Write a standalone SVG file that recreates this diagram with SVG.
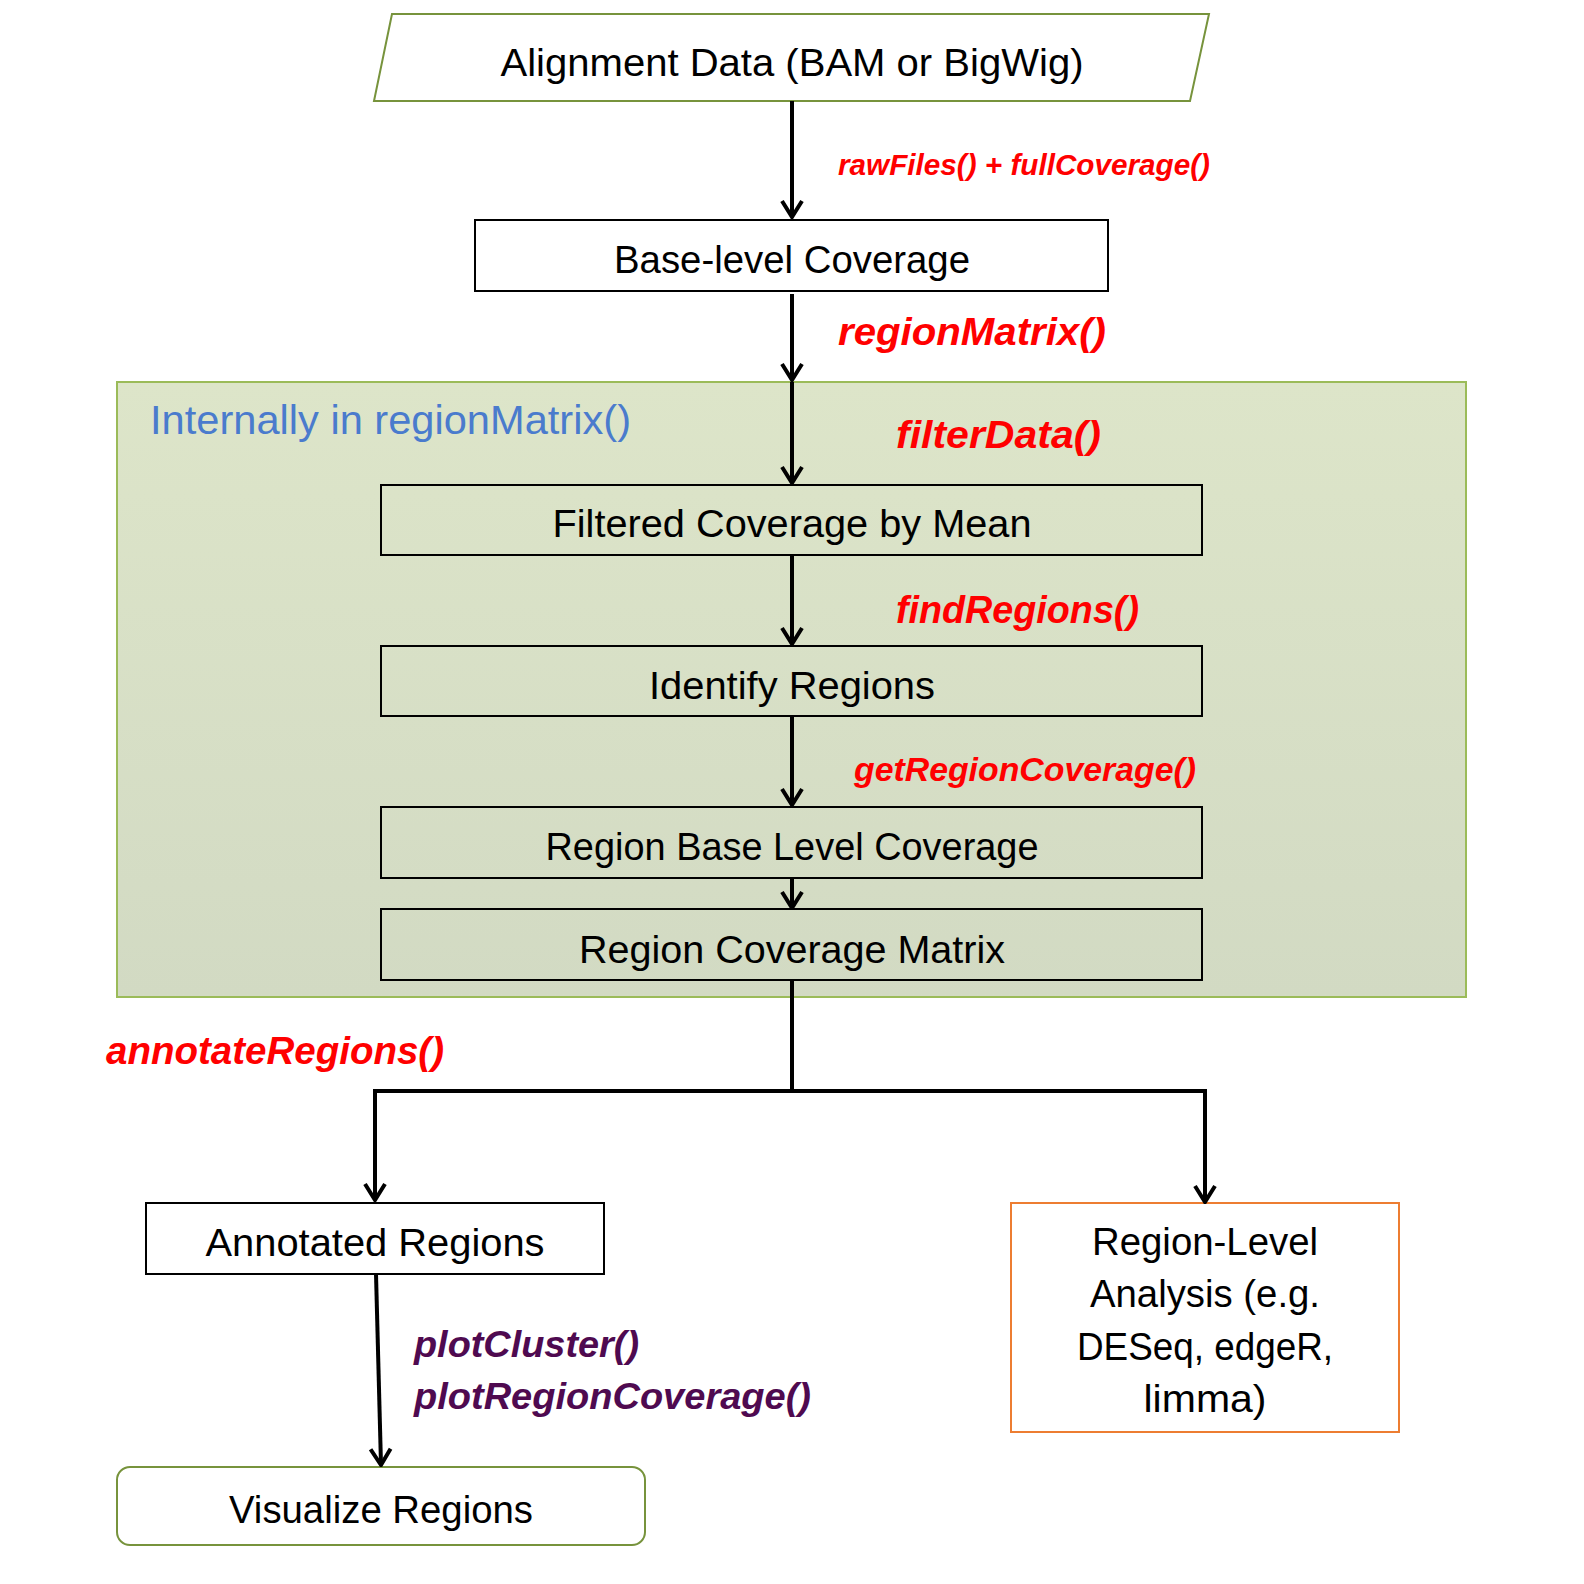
<svg xmlns="http://www.w3.org/2000/svg" width="1584" height="1584" viewBox="0 0 1584 1584">
<defs>
<linearGradient id="bg" x1="0" y1="0" x2="0" y2="1">
<stop offset="0" stop-color="#dde5c9"/>
<stop offset="1" stop-color="#d2dac3"/>
</linearGradient>
<marker id="arr" viewBox="0 0 20 24" refX="18" refY="12" markerWidth="20" markerHeight="24" markerUnits="userSpaceOnUse" orient="auto-start-reverse">
<path d="M2,2 L18,12 L2,22" fill="none" stroke="#000" stroke-width="4"/>
</marker>
</defs>
<style>
.box{fill:#fff;stroke:#000;stroke-width:2}
.ibox{fill:none;stroke:#000;stroke-width:2}
.t{font-family:"Liberation Sans",Arial,sans-serif;font-size:38px;fill:#000;text-anchor:middle}
.lbl{font-family:"Liberation Sans",Arial,sans-serif;font-weight:bold;font-style:italic;fill:#ff0000}
.pl{font-family:"Liberation Sans",Arial,sans-serif;font-weight:bold;font-style:italic;fill:#4f0a50;font-size:37px}
.c{fill:none;stroke:#000;stroke-width:4}
</style>
<rect width="1584" height="1584" fill="#fff"/>
<g id="container">
<rect x="117" y="382" width="1349" height="615" fill="url(#bg)" stroke="#9bbb59" stroke-width="2"/>
<text x="150" y="434" font-family="Liberation Sans,Arial,sans-serif" font-size="40" fill="#4a7bcd" textLength="481" lengthAdjust="spacingAndGlyphs">Internally in regionMatrix()</text>
</g>
<g id="alignment">
<polygon points="392,14 1209,14 1190,101 374,101" fill="#fff" stroke="#77933c" stroke-width="2"/>
<text class="t" x="792" y="76" textLength="583" lengthAdjust="spacingAndGlyphs">Alignment Data (BAM or BigWig)</text>
</g>
<g id="base">
<rect class="box" x="475" y="220" width="633" height="71"/>
<text class="t" x="792" y="273" textLength="356" lengthAdjust="spacingAndGlyphs">Base-level Coverage</text>
</g>
<g id="filtered">
<rect class="ibox" x="381" y="485" width="821" height="70"/>
<text class="t" x="792" y="537" textLength="479" lengthAdjust="spacingAndGlyphs">Filtered Coverage by Mean</text>
</g>
<g id="identify">
<rect class="ibox" x="381" y="646" width="821" height="70"/>
<text class="t" x="792" y="699" textLength="286" lengthAdjust="spacingAndGlyphs">Identify Regions</text>
</g>
<g id="rblc">
<rect class="ibox" x="381" y="807" width="821" height="71"/>
<text class="t" x="792" y="860" textLength="493" lengthAdjust="spacingAndGlyphs">Region Base Level Coverage</text>
</g>
<g id="rcm">
<rect class="ibox" x="381" y="909" width="821" height="71"/>
<text class="t" x="792" y="963" textLength="426" lengthAdjust="spacingAndGlyphs">Region Coverage Matrix</text>
</g>
<g id="annotated">
<rect class="box" x="146" y="1203" width="458" height="71"/>
<text class="t" x="375" y="1256" textLength="339" lengthAdjust="spacingAndGlyphs">Annotated Regions</text>
</g>
<g id="visualize">
<rect x="117" y="1467" width="528" height="78" rx="13" fill="#fff" stroke="#77933c" stroke-width="2"/>
<text class="t" x="381" y="1523" textLength="304" lengthAdjust="spacingAndGlyphs">Visualize Regions</text>
</g>
<g id="analysis">
<rect x="1011" y="1203" width="388" height="229" fill="#fff" stroke="#ed7d31" stroke-width="2"/>
<text class="t" x="1205" y="1255" textLength="226" lengthAdjust="spacingAndGlyphs">Region-Level</text>
<text class="t" x="1205" y="1307" textLength="230" lengthAdjust="spacingAndGlyphs">Analysis (e.g.</text>
<text class="t" x="1205" y="1360" textLength="256" lengthAdjust="spacingAndGlyphs">DESeq, edgeR,</text>
<text class="t" x="1205" y="1412" textLength="123" lengthAdjust="spacingAndGlyphs">limma)</text>
</g>
<g id="connectors">
<line class="c" x1="792" y1="101" x2="792" y2="217" marker-end="url(#arr)"/>
<line class="c" x1="792" y1="294" x2="792" y2="380" marker-end="url(#arr)"/>
<line class="c" x1="792" y1="382" x2="792" y2="483" marker-end="url(#arr)"/>
<line class="c" x1="792" y1="555" x2="792" y2="644" marker-end="url(#arr)"/>
<line class="c" x1="792" y1="716" x2="792" y2="805" marker-end="url(#arr)"/>
<line class="c" x1="792" y1="878" x2="792" y2="908" marker-end="url(#arr)"/>
<polyline class="c" points="792,980 792,1091"/>
<polyline class="c" points="375,1200 375,1091 1205,1091 1205,1202" marker-start="url(#arr)" marker-end="url(#arr)"/>
<line class="c" x1="376" y1="1274" x2="381" y2="1465" marker-end="url(#arr)"/>
<text class="lbl" x="838" y="175" font-size="29" textLength="372" lengthAdjust="spacingAndGlyphs">rawFiles() + fullCoverage()</text>
<text class="lbl" x="838" y="345" font-size="38" textLength="268" lengthAdjust="spacingAndGlyphs">regionMatrix()</text>
<text class="lbl" x="896" y="448" font-size="38" textLength="205" lengthAdjust="spacingAndGlyphs">filterData()</text>
<text class="lbl" x="896" y="623" font-size="38" textLength="243" lengthAdjust="spacingAndGlyphs">findRegions()</text>
<text class="lbl" x="854" y="781" font-size="33" textLength="342" lengthAdjust="spacingAndGlyphs">getRegionCoverage()</text>
<text class="lbl" x="106" y="1064" font-size="38" textLength="338" lengthAdjust="spacingAndGlyphs">annotateRegions()</text>
<text class="pl" x="414" y="1357" textLength="225" lengthAdjust="spacingAndGlyphs">plotCluster()</text>
<text class="pl" x="414" y="1409" textLength="397" lengthAdjust="spacingAndGlyphs">plotRegionCoverage()</text>
</g>
</svg>
